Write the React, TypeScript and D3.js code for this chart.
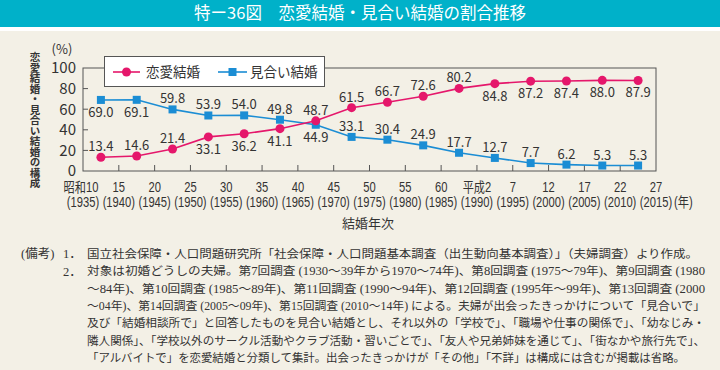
import * as d3 from "d3";

const W = 720;
const H = 370;
const BG = "#f3f0e6";
const TEAL = "#00b1c9";
const RED = "#e5176b";
const BLUE = "#1b8dd4";
const TXT = "#333";
const JP = "'Noto Sans CJK JP', 'Noto Sans', sans-serif";
const NARROW = "'Liberation Sans', 'Noto Sans CJK JP', sans-serif";
const NOTE = "'Liberation Serif', 'Noto Sans CJK JP', serif";

// survey periods (mid-year of each 5-year span)
const surveyYears = [1937.5, 1942.5, 1947.5, 1952.5, 1957.5, 1962.5, 1967.5, 1972.5, 1977.5, 1982.5, 1987.5, 1992.5, 1997.5, 2002.5, 2007.5, 2012.5];
const renai = [13.4, 14.6, 21.4, 33.1, 36.2, 41.1, 48.7, 61.5, 66.7, 72.6, 80.2, 84.8, 87.2, 87.4, 88.0, 87.9];
const miai = [69.0, 69.1, 59.8, 53.9, 54.0, 49.8, 44.9, 33.1, 30.4, 24.9, 17.7, 12.7, 7.7, 6.2, 5.3, 5.3];
// label side: true = above the point
const renaiAbove = [true, true, true, false, false, false, true, true, true, true, true, false, false, false, false, false];
const miaiAbove = [false, false, true, true, true, true, false, true, true, true, true, true, true, true, true, true];

const tickYears = [1935, 1940, 1945, 1950, 1955, 1960, 1965, 1970, 1975, 1980, 1985, 1990, 1995, 2000, 2005, 2010, 2015];
const tickEra = ["昭和10", "15", "20", "25", "30", "35", "40", "45", "50", "55", "60", "平成2", "7", "12", "17", "22", "27"];
const tickWestern = ["(1935)", "(1940)", "(1945)", "(1950)", "(1955)", "(1960)", "(1965)", "(1970)", "(1975)", "(1980)", "(1985)", "(1990)", "(1995)", "(2000)", "(2005)", "(2010)", "(2015)"];
const yTicks = [0, 20, 40, 60, 80, 100];

const notes = [
  "国立社会保障・人口問題研究所「社会保障・人口問題基本調査（出生動向基本調査）」（夫婦調査）より作成。",
  "対象は初婚どうしの夫婦。第7回調査 (1930～39年から1970～74年)、第8回調査 (1975～79年)、第9回調査 (1980",
  "～84年)、第10回調査 (1985～89年)、第11回調査 (1990～94年)、第12回調査 (1995年～99年)、第13回調査 (2000",
  "～04年)、第14回調査 (2005～09年)、第15回調査 (2010～14年) による。夫婦が出会ったきっかけについて「見合いで」",
  "及び「結婚相談所で」と回答したものを見合い結婚とし、それ以外の「学校で」、「職場や仕事の関係で」、「幼なじみ・",
  "隣人関係」、「学校以外のサークル活動やクラブ活動・習いごとで」、「友人や兄弟姉妹を通じて」、「街なかや旅行先で」、",
  "「アルバイトで」を恋愛結婚と分類して集計。出会ったきっかけが「その他」「不詳」は構成には含むが掲載は省略。",
];
const noteRight = [698, 705, 705, 705, 705, 705, 685];

const PLOT = { left: 83, right: 656, top: 68, bottom: 171 };
const SQUEEZE = 0.8;

function NarrowText({ cx, y, anchor, text }: { cx: number; y: number; anchor: string; text: string }) {
  return (
    <text
      transform={`translate(${cx},${y}) scale(${SQUEEZE},1)`}
      textAnchor={anchor}
      fill={TXT}
      fontFamily={NARROW}
      fontSize={14}
    >
      {text}
    </text>
  );
}

export default function App() {
  const x = d3.scaleLinear().domain([1935, 2015]).range([PLOT.left, PLOT.right]);
  const y = d3.scaleLinear().domain([0, 100]).range([PLOT.bottom, PLOT.top]);

  const line = d3
    .line<number>()
    .x((_, i) => x(surveyYears[i]))
    .y((d) => y(d));

  const noteX = 87;

  return (
    <svg
      width={W}
      height={H}
      style={{ position: "fixed", left: 0, top: 0, display: "block" }}
    >
      <rect x={0} y={0} width={W} height={H} fill="#fff" />
      <rect x={0} y={31} width={W} height={H - 31} fill={BG} />
      <rect x={0} y={0} width={W} height={27} fill={TEAL} />
      <text
        x={W / 2}
        y={19}
        textAnchor="middle"
        fill="#fff"
        fontFamily={JP}
        fontSize={16.5}
      >
        特ー36図　恋愛結婚・見合い結婚の割合推移
      </text>

      {/* frame */}
      <rect
        x={PLOT.left}
        y={PLOT.top}
        width={PLOT.right - PLOT.left}
        height={PLOT.bottom - PLOT.top}
        fill="none"
        stroke="#555"
        strokeWidth={1}
      />

      {/* y ticks */}
      {yTicks.map((t) => (
        <g key={"y" + t}>
          {t > 0 && t < 100 && (
            <line x1={PLOT.left} x2={PLOT.left + 5} y1={y(t)} y2={y(t)} stroke="#555" />
          )}
          <text
            x={76}
            y={y(t)}
            dy="0.36em"
            textAnchor="end"
            fill={TXT}
            fontFamily={JP}
            fontSize={15}
          >
            {t}
          </text>
        </g>
      ))}
      <text x={62} y={54} textAnchor="middle" fill={TXT} fontFamily={JP} fontSize={13}>
        (%)
      </text>

      {/* y axis title, vertical */}
      <text
        x={35}
        y={52}
        fill={TXT}
        fontFamily={JP}
        fontSize={10.5}
        fontWeight="bold"
        style={{ writingMode: "vertical-rl", textOrientation: "upright" }}
      >
        恋愛結婚・見合い結婚の構成
      </text>

      {/* x ticks */}
      {tickYears.map((yr, i) => (
        <g key={"x" + yr}>
          {i > 0 && i < tickYears.length - 1 && (
            <line x1={x(yr)} x2={x(yr)} y1={PLOT.bottom} y2={PLOT.bottom - 6} stroke="#555" />
          )}
          <NarrowText cx={i === 0 ? x(yr) - 2 : x(yr)} y={192} anchor="middle" text={tickEra[i]} />
          <NarrowText cx={x(yr)} y={207} anchor="middle" text={tickWestern[i]} />
        </g>
      ))}
      <NarrowText cx={674} y={207} anchor="start" text="(年)" />
      <text x={368} y={228} textAnchor="middle" fill={TXT} fontFamily={JP} fontSize={13}>
        結婚年次
      </text>

      {/* miai series */}
      <path d={line(miai) ?? ""} fill="none" stroke={BLUE} strokeWidth={1.6} />
      {miai.map((v, i) => (
        <rect
          key={"ms" + i}
          x={x(surveyYears[i]) - 4}
          y={y(v) - 4}
          width={8}
          height={8}
          fill={BLUE}
        />
      ))}
      {/* renai series */}
      <path d={line(renai) ?? ""} fill="none" stroke={RED} strokeWidth={1.6} />
      {renai.map((v, i) => (
        <circle key={"rc" + i} cx={x(surveyYears[i])} cy={y(v)} r={4.5} fill={RED} />
      ))}

      {/* data labels */}
      {miai.map((v, i) => (
        <text
          key={"ml" + i}
          x={x(surveyYears[i])}
          y={y(v) + (miaiAbove[i] ? -6 : 17)}
          textAnchor="middle"
          fill={TXT}
          fontFamily={JP}
          fontSize={13}
        >
          {v.toFixed(1)}
        </text>
      ))}
      {renai.map((v, i) => (
        <text
          key={"rl" + i}
          x={x(surveyYears[i])}
          y={y(v) + (renaiAbove[i] ? -6 : 17)}
          textAnchor="middle"
          fill={TXT}
          fontFamily={JP}
          fontSize={13}
        >
          {v.toFixed(1)}
        </text>
      ))}

      {/* legend */}
      <rect x={104.5} y={56.5} width={220} height={30} fill="#fff" stroke="#555" />
      <line x1={113} x2={140} y1={72} y2={72} stroke={RED} strokeWidth={1.6} />
      <circle cx={126.5} cy={72} r={4.5} fill={RED} />
      <text x={146} y={72} dy="0.36em" fill={TXT} fontFamily={JP} fontSize={13.5}>
        恋愛結婚
      </text>
      <line x1={218} x2={247} y1={72} y2={72} stroke={BLUE} strokeWidth={1.6} />
      <rect x={228.5} y={68} width={8} height={8} fill={BLUE} />
      <text x={250} y={72} dy="0.36em" fill={TXT} fontFamily={JP} fontSize={13.5}>
        見合い結婚
      </text>

      {/* notes */}
      <text x={21} y={258} fill={TXT} fontFamily={NOTE} fontSize={12.5}>
        (備考)
      </text>
      <text x={63} y={258} fill={TXT} fontFamily={NOTE} fontSize={12.5}>
        1．
      </text>
      <text x={63} y={275.5} fill={TXT} fontFamily={NOTE} fontSize={12.5}>
        2．
      </text>
      {notes.map((s, i) => (
        <text
          key={"n" + i}
          x={noteX}
          y={258 + i * 17.35}
          fill={TXT}
          fontFamily={NOTE}
          fontSize={11.5}
          textLength={noteRight[i] - noteX}
          lengthAdjust="spacingAndGlyphs"
        >
          {s}
        </text>
      ))}
    </svg>
  );
}
